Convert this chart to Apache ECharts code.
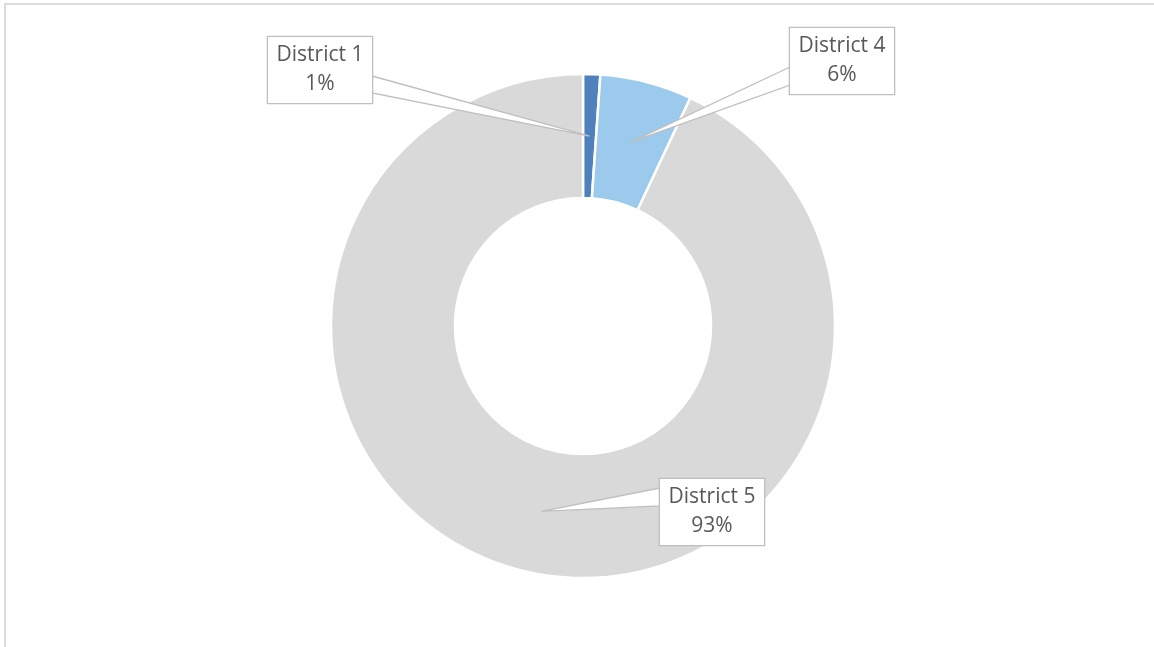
<!DOCTYPE html>
<html>
<head>
<meta charset="utf-8">
<script src="https://cdn.jsdelivr.net/npm/echarts@6/dist/echarts.min.js"></script>
<style>
  html, body { margin: 0; padding: 0; background: #fff; overflow: hidden; width: 1154px; height: 647px; }
  #frame {
    position: absolute; left: 4px; top: 3px; width: 1200px; height: 700px;
    border-left: 2px solid #dcdcdc; border-top: 2px solid #dcdcdc;
  }
  #main { position: absolute; left: 0; top: 0; width: 1154px; height: 647px; }
</style>
</head>
<body>
<div id="frame"></div>
<div id="main"></div>
<script>
// data
const districts = ["District 1", "District 4", "District 5"];
const shares = [1.1, 5.9, 93.0];
const sliceColors = ["#4f81bd", "#9bcaed", "#d9d9d9"];

// where each callout box sits, and which edge the pointer leaves from
const boxPlace = [
  { x: 320, y: 70, side: "right", off: [6, 23] },
  { x: 842, y: 61, side: "left", off: [6, 24] },
  { x: 712, y: 512, side: "left", off: [-24, -6] },
];
const boxWidth = 104;

let chart = echarts.init(document.getElementById("main"));

const ringCenter = [583, 326];
const ringRadius = [128, 252];

let option = {
  animation: false,
  series: [
    {
      // the ring itself
      type: "pie",
      z: 2,
      center: ringCenter,
      radius: ringRadius,
      startAngle: 90,
      label: { show: false },
      labelLine: { show: false },
      itemStyle: { borderColor: "#fff", borderWidth: 2.5 },
      data: districts.map((name, i) => ({
        name: name,
        value: shares[i],
        itemStyle: { color: sliceColors[i] },
      })),
    },
    {
      // same slices, invisible, only to carry the callout boxes above the ring
      type: "pie",
      z: 5,
      silent: true,
      center: ringCenter,
      radius: ringRadius,
      startAngle: 90,
      avoidLabelOverlap: false,
      itemStyle: { color: "rgba(0,0,0,0)", borderWidth: 0 },
      label: {
        show: true,
        position: "outside",
        formatter: function (p) {
          return p.name + "\n" + Math.round(p.percent) + "%";
        },
        fontFamily: "Open Sans",
        fontSize: 21,
        lineHeight: 29,
        color: "#595959",
        align: "center",
        width: boxWidth - 16,
        overflow: "none",
        backgroundColor: "#fff",
        borderColor: "#bfbfbf",
        borderWidth: 1.3,
        padding: [4, 8],
      },
      labelLine: { show: false },
      labelLayout: function (params) {
        const place = boxPlace[params.dataIndex];
        return { x: place.x, y: place.y, align: "center", verticalAlign: "middle" };
      },
      data: districts.map((name, i) => ({ name: name, value: shares[i] })),
    },
  ],
};

option && chart.setOption(option);

// callout pointers: a white wedge from the box edge to the middle of each slice
let ringData = chart.getModel().getSeriesByIndex(0).getData();
let wedges = districts.map((name, i) => {
  const lay = ringData.getItemLayout(i);
  const place = boxPlace[i];
  const mid = (lay.startAngle + lay.endAngle) / 2;
  const rMid = (lay.r0 + lay.r) / 2;
  const tip = [lay.cx + rMid * Math.cos(mid), lay.cy + rMid * Math.sin(mid)];
  const ex = place.side === "right" ? place.x + boxWidth / 2 : place.x - boxWidth / 2;
  return {
    type: "polygon",
    z: 4,
    silent: true,
    shape: {
      points: [[ex, place.y + place.off[0]], tip, [ex, place.y + place.off[1]]],
    },
    style: { fill: "#fff", stroke: "#bfbfbf", lineWidth: 1.3 },
  };
});
chart.setOption({ graphic: wedges });
</script>
</body>
</html>
